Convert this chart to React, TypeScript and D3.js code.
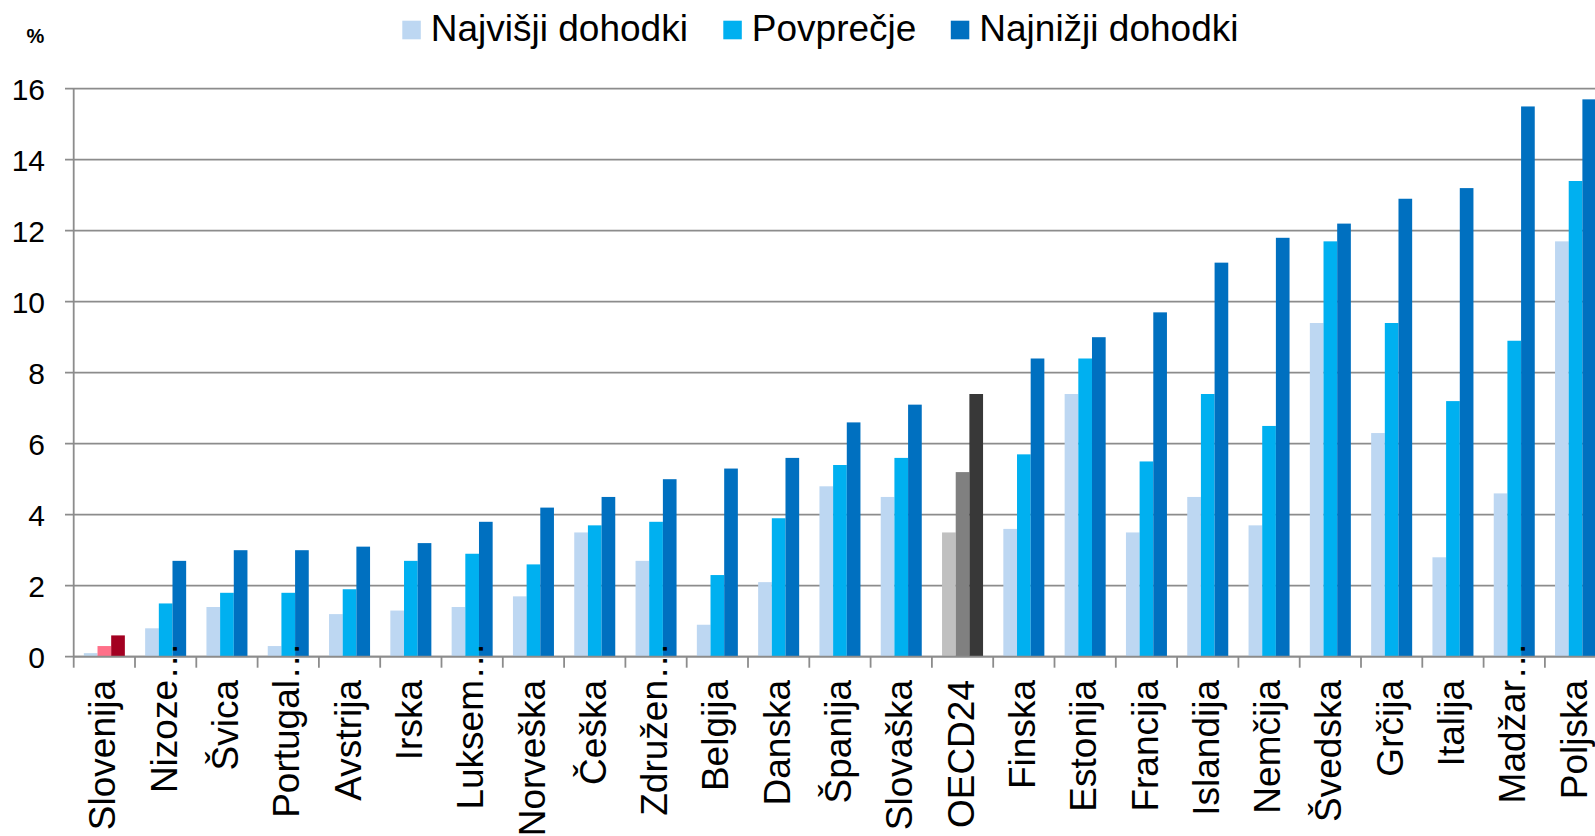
import React from 'react'
import * as d3 from 'd3'

const categories = [
  'Slovenija', 'Nizoze…', 'Švica', 'Portugal…', 'Avstrija', 'Irska', 'Luksem…', 'Norveška',
  'Češka', 'Združen…', 'Belgija', 'Danska', 'Španija', 'Slovaška', 'OECD24', 'Finska',
  'Estonija', 'Francija', 'Islandija', 'Nemčija', 'Švedska', 'Grčija', 'Italija', 'Madžar…', 'Poljska',
]
const seriesNames = ['Najvišji dohodki', 'Povprečje', 'Najnižji dohodki']
const najvisji = [0.1, 0.8, 1.4, 0.3, 1.2, 1.3, 1.4, 1.7, 3.5, 2.7, 0.9, 2.1, 4.8, 4.5, 3.5, 3.6, 7.4, 3.5, 4.5, 3.7, 9.4, 6.3, 2.8, 4.6, 11.7]
const povprecje = [0.3, 1.5, 1.8, 1.8, 1.9, 2.7, 2.9, 2.6, 3.7, 3.8, 2.3, 3.9, 5.4, 5.6, 5.2, 5.7, 8.4, 5.5, 7.4, 6.5, 11.7, 9.4, 7.2, 8.9, 13.4]
const najnizji = [0.6, 2.7, 3.0, 3.0, 3.1, 3.2, 3.8, 4.2, 4.5, 5.0, 5.3, 5.6, 6.6, 7.1, 7.4, 8.4, 9.0, 9.7, 11.1, 11.8, 12.2, 12.9, 13.2, 15.5, 15.7]
const yTicks = [0, 2, 4, 6, 8, 10, 12, 14, 16]

const colors = ['#BDD7F2', '#00B0F0', '#0070C0']
const sloColors = ['#BDD7EE', '#FF7089', '#A30021']
const oecdColors = ['#C0C0C0', '#808080', '#383838']

const W = 1595
const H = 836
const font = '"Liberation Sans", Arial, sans-serif'
const axisColor = '#8C8C8C'

export default function App() {
  const left = 73.7
  const step = 61.3
  const bottom = 656.7
  const top = 88.7

  const x = d3
    .scaleBand()
    .domain(categories)
    .range([left, left + step * categories.length])
    .paddingInner(0.331)
    .paddingOuter(0.1655)
  const xInner = d3.scaleBand().domain(['0', '1', '2']).range([0, x.bandwidth()])
  const y = d3.scaleLinear().domain([0, 16]).range([bottom, top])

  const series = [najvisji, povprecje, najnizji]
  const labelY = 680

  return (
    <svg width={W} height={H} style={{ position: 'absolute', left: 0, top: 0 }} fontFamily={font}>
      <rect width={W} height={H} fill="#fff" />

      {/* gridlines + y ticks */}
      {yTicks.map((t) => (
        <g key={t}>
          <line x1={65} x2={W + 20} y1={y(t)} y2={y(t)} stroke={axisColor} strokeWidth={1.8} />
          <text x={45} y={y(t)} dy="0.37em" textAnchor="end" fontSize={30} fill="#000">
            {t}
          </text>
        </g>
      ))}
      <line x1={left} x2={left} y1={top} y2={bottom} stroke={axisColor} strokeWidth={1.8} />
      <text x={35.5} y={43.3} textAnchor="middle" fontSize={20} fontWeight="bold">%</text>

      {/* bars */}
      {categories.map((c, i) => (
        <g key={c} transform={`translate(${x(c)},0)`}>
          {series.map((s, k) => {
            const fill = i === 0 ? sloColors[k] : c === 'OECD24' ? oecdColors[k] : colors[k]
            return (
              <rect
                key={k}
                x={xInner(String(k))}
                y={y(s[i])}
                width={xInner.bandwidth()}
                height={bottom - y(s[i])}
                fill={fill}
              />
            )
          })}
        </g>
      ))}

      {/* x ticks */}
      {d3.range(categories.length + 1).map((i) => (
        <line
          key={i}
          x1={left + i * step}
          x2={left + i * step}
          y1={bottom}
          y2={bottom + 11}
          stroke={axisColor}
          strokeWidth={1.8}
        />
      ))}

      {/* category labels */}
      {categories.map((c, i) => {
        const cx = left + (i + 0.5) * step
        const trunc = c.endsWith('…')
        const word = trunc ? c.slice(0, -1) : c
        return (
          <g key={c} transform={`translate(${cx},${labelY}) rotate(-90)`}>
            <text x={0} y={0} dy="0.3em" textAnchor="end" fontSize={37} fill="#000">
              {word}
            </text>
            {trunc && (
              <text x={2} y={0} dy="0.3em" textAnchor="start" fontSize={37} letterSpacing={1.7} fill="#000">
                ...
              </text>
            )}
          </g>
        )
      })}

      <line x1={left} x2={W + 20} y1={bottom} y2={bottom} stroke={axisColor} strokeWidth={1.8} />

      {/* legend */}
      {[402.3, 723.3, 950.8].map((lx, k) => (
        <g key={k}>
          <rect x={lx} y={20.7} width={18.5} height={18.6} fill={colors[k]} />
          <text x={lx + 28.5} y={40.7} fontSize={37} fill="#000">
            {seriesNames[k]}
          </text>
        </g>
      ))}
    </svg>
  )
}
